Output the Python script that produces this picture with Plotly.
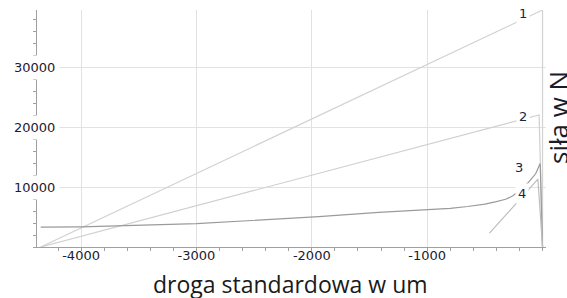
import plotly.graph_objects as go

# ---- data ----
x1 = [-4350, 0, 0]
y1 = [0, 39500, 0]

x2 = [-4350, -30, 0]
y2 = [0, 22000, 0]

x3 = [-4350, -4000, -3000, -2460, -1940, -1420, -1000, -800, -650, -500, -400, -320, -260, -200, -120, -60, -20, 0]
y3 = [3300, 3350, 3900, 4500, 5050, 5780, 6170, 6450, 6750, 7150, 7550, 7950, 8500, 9400, 10800, 12200, 13900, 0]

x4 = [-460, -40, 0]
y4 = [2300, 11300, 0]

series_labels = ["1", "2", "3", "4"]
label_x = [-170, -170, -200, -180]
label_y = [39000, 21700, 13200, 9000]

x_ticks = [-4000, -3000, -2000, -1000]
x_tick_text = ["-4000", "-3000", "-2000", "-1000"]
y_ticks = [10000, 20000, 30000]
y_tick_text = ["10000", "20000", "30000"]

x_title = "droga standardowa w um"
y_title = "siła w N"

W, H = 567, 298
ML, MR, MT, MB = 37, 21, 10, 51
PW = W - ML - MR
PH = H - MT - MB

fig = go.Figure()
line_colors = ["#d2d2d2", "#cfcfcf", "#9a9a9a", "#bdbdbd"]
for xs, ys, c in zip([x1, x2, x3, x4], [y1, y2, y3, y4], line_colors):
    fig.add_trace(go.Scatter(x=xs, y=ys, mode="lines",
                             line=dict(color=c, width=1.2),
                             hoverinfo="skip", showlegend=False))

ann = []
# series labels
for t, lx, ly in zip(series_labels, label_x, label_y):
    ann.append(dict(x=lx, y=ly, xref="x", yref="y", text=t, showarrow=False,
                    font=dict(family="DejaVu Sans", size=13, color="#1b2540"),
                    bgcolor="white", borderpad=2))
# y tick labels (with white box over the axis line)
for v, t in zip(y_ticks, y_tick_text):
    ann.append(dict(x=(60 - ML) / PW, y=v, xref="paper", yref="y", text=t,
                    showarrow=False, xanchor="right", yanchor="middle",
                    font=dict(family="DejaVu Sans", size=13, color="#1b2030"),
                    bgcolor="white", borderpad=4))
# axis titles
ann.append(dict(x=(290 - ML) / PW, y=-(284 - MT - PH) / PH, xref="paper", yref="paper",
                text=x_title, showarrow=False, xanchor="center", yanchor="middle",
                font=dict(family="Open Sans", size=23, color="#1a1a1a")))
ann.append(dict(x=(558 - ML) / PW, y=1 - (118 - MT) / PH, xref="paper", yref="paper",
                text=y_title, showarrow=False, textangle=-90, xanchor="center", yanchor="middle",
                font=dict(family="Open Sans", size=26, color="#1a1a2a")))

fig.update_layout(
    width=W, height=H,
    margin=dict(l=ML, r=MR, t=MT, b=MB),
    paper_bgcolor="white", plot_bgcolor="white",
    annotations=ann,
    xaxis=dict(range=[-4382, 30], tickvals=x_ticks, ticktext=x_tick_text,
               showgrid=True, gridcolor="#e2e2e2", gridwidth=1,
               showline=True, linecolor="#a0a0a0", linewidth=1,
               ticks="outside", ticklen=3, tickcolor="#a0a0a0",
               minor=dict(dtick=200, ticks="outside", ticklen=3, tickcolor="#a0a0a0", showgrid=False),
               tickfont=dict(family="DejaVu Sans", size=13, color="#1b2030"),
               ticklabelstandoff=-7,
               zeroline=False),
    yaxis=dict(range=[0, 39500], tickvals=y_ticks, showticklabels=False,
               showgrid=True, gridcolor="#e2e2e2", gridwidth=1,
               showline=True, linecolor="#a0a0a0", linewidth=1,
               ticks="outside", ticklen=3, tickcolor="#a0a0a0",
               minor=dict(dtick=2000, ticks="outside", ticklen=3, tickcolor="#a0a0a0", showgrid=False),
               zeroline=False),
)

fig.write_html("out.html", config={"displayModeBar": False},
               post_script="document.body.style.margin='0';document.body.style.overflow='hidden';")
